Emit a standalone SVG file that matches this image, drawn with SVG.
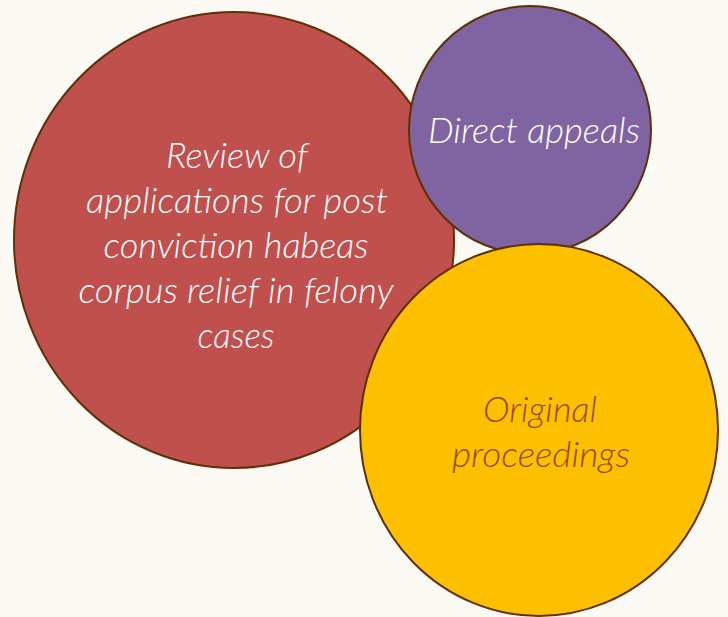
<svg xmlns="http://www.w3.org/2000/svg" width="728" height="617" viewBox="0 0 728 617">
<style>
.node{stroke:#5E3005;stroke-width:2}
.lbl{font-family:Lato,"Open Sans","Liberation Sans",sans-serif;font-style:italic;font-weight:300;font-size:35px;text-anchor:middle}
.w{fill:#FFFFFF}
.d{fill:#984807}
</style>
<rect width="728" height="617" fill="#FAF9F4"/>
<g id="connectors"></g>
<g id="review">
<ellipse class="node" cx="234" cy="240" rx="220" ry="228" fill="#C0504D"/>
<text class="lbl w"><tspan x="237" y="168" textLength="142" lengthAdjust="spacingAndGlyphs">Review of</tspan><tspan x="237" y="213" textLength="302" lengthAdjust="spacingAndGlyphs">applications for post</tspan><tspan x="236" y="258" textLength="265" lengthAdjust="spacingAndGlyphs">conviction habeas</tspan><tspan x="236" y="303" textLength="315" lengthAdjust="spacingAndGlyphs">corpus relief in felony</tspan><tspan x="236" y="348" textLength="77" lengthAdjust="spacingAndGlyphs">cases</tspan></text>
</g>
<g id="direct">
<ellipse class="node" cx="530" cy="130" rx="121" ry="124" fill="#8064A2"/>
<text class="lbl w" x="534" y="143" textLength="212" lengthAdjust="spacingAndGlyphs">Direct appeals</text>
</g>
<g id="original">
<ellipse class="node" cx="539" cy="430" rx="179" ry="186" fill="#FCC000"/>
<text class="lbl d"><tspan x="540" y="422" textLength="114" lengthAdjust="spacingAndGlyphs">Original</tspan><tspan x="541" y="467" textLength="178" lengthAdjust="spacingAndGlyphs">proceedings</tspan></text>
</g>
</svg>
